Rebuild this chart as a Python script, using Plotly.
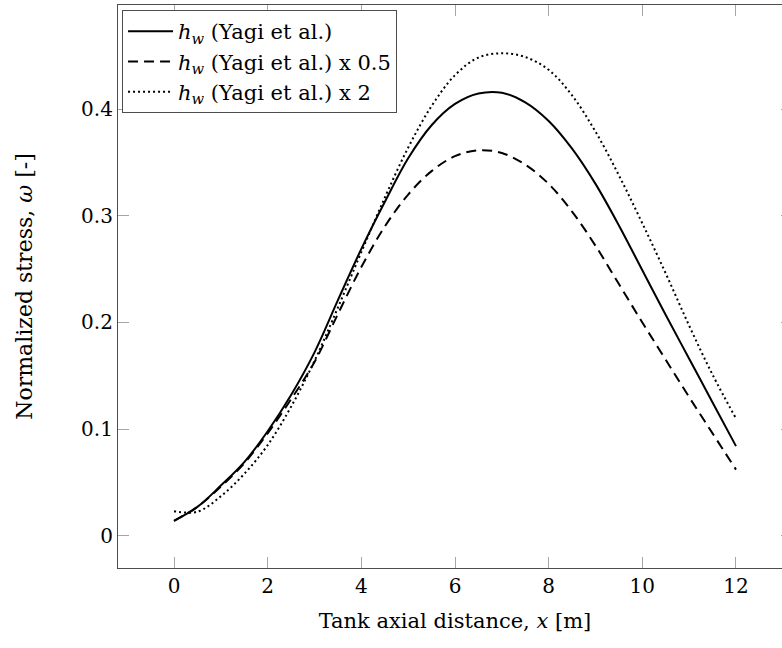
import plotly.graph_objects as go

x_grid = [0, 0.5, 1, 1.5, 2, 2.5, 3, 3.5, 4, 4.5, 5, 5.5, 6, 6.5, 7, 7.5, 8, 8.5, 9, 9.5, 10, 10.5, 11, 11.5, 12]

hw_base = [0.014, 0.027, 0.047, 0.069, 0.098, 0.132, 0.172, 0.221, 0.269, 0.313, 0.354, 0.385, 0.405, 0.4148, 0.4155,
           0.4065, 0.389, 0.363, 0.330, 0.291, 0.249, 0.207, 0.166, 0.125, 0.084]
hw_half = [0.014, 0.027, 0.046, 0.068, 0.096, 0.128, 0.163, 0.208, 0.252, 0.290, 0.320, 0.342, 0.356, 0.3615, 0.359,
           0.348, 0.330, 0.304, 0.272, 0.236, 0.200, 0.165, 0.130, 0.096, 0.062]
hw_double = [0.023, 0.0225, 0.037, 0.058, 0.085, 0.121, 0.164, 0.214, 0.266, 0.317, 0.364, 0.403, 0.432, 0.4485, 0.4525,
             0.449, 0.437, 0.413, 0.379, 0.338, 0.293, 0.246, 0.197, 0.151, 0.110]

names = ["<i>h</i><sub><i>w</i></sub> (Yagi et al.)",
         "<i>h</i><sub><i>w</i></sub> (Yagi et al.) x 0.5",
         "<i>h</i><sub><i>w</i></sub> (Yagi et al.) x 2"]
x_ticks = [0, 2, 4, 6, 8, 10, 12]
y_ticks = [0, 0.1, 0.2, 0.3, 0.4]

FONT = "DejaVu Serif"

fig = go.Figure()
for ys, nm, dash in [(hw_base, names[0], "solid"), (hw_half, names[1], "10px,6px"), (hw_double, names[2], "2px,3px")]:
    fig.add_trace(go.Scatter(x=x_grid, y=ys, name=nm, mode="lines",
                             line=dict(color="black", width=2, dash=dash, shape="spline", smoothing=1.0)))

axis_common = dict(showline=True, linecolor="#4d4d4d", linewidth=1.2, mirror="ticks",
                   ticks="inside", ticklen=11, tickwidth=1, tickcolor="#a6a6a6",
                   showgrid=False, zeroline=False,
                   tickfont=dict(family=FONT, size=20, color="black"))

fig.update_xaxes(range=[-1.196, 13.196], tickvals=x_ticks, ticktext=[str(v) for v in x_ticks],
                 title=dict(text="Tank axial distance, <i>x</i> [m]", font=dict(family=FONT, size=21, color="black"), standoff=16),
                 automargin=False, **axis_common)
fig.update_yaxes(range=[-0.0303, 0.4978], tickvals=y_ticks, ticktext=["0", "0.1", "0.2", "0.3", "0.4"],
                 title=dict(text="Normalized stress, <i>ω</i> [-]", font=dict(family=FONT, size=22, color="black"), standoff=42),
                 automargin=False, **axis_common)

fig.update_layout(
    width=800, height=648,
    margin=dict(l=118, r=8, t=5, b=80),
    plot_bgcolor="white", paper_bgcolor="white",
    font=dict(family=FONT, color="black"),
    showlegend=True,
    legend=dict(x=0.006, y=0.991, xanchor="left", yanchor="top",
                bordercolor="#4d4d4d", borderwidth=1, bgcolor="white", itemwidth=45,
                font=dict(family=FONT, size=21, color="black"), tracegroupgap=0),
)

fig.write_html("out.html", post_script="document.body.style.overflow='hidden';document.documentElement.style.overflow='hidden';document.body.style.margin='0';")
